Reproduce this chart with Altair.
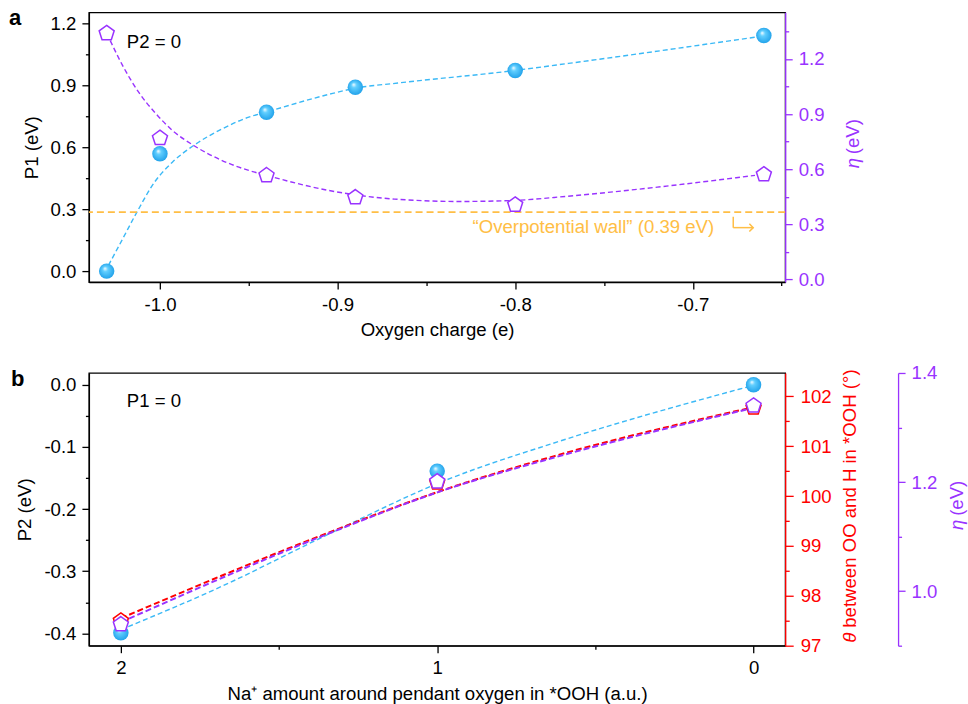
import altair as alt
import pandas as pd

# ---------------- data: panel a ----------------
a_charge = [-1.03, -1.00, -0.94, -0.89, -0.80, -0.66]
a_p1 = [0.000, 0.568, 0.769, 0.890, 0.971, 1.140]
a_eta = [1.340, 0.769, 0.566, 0.446, 0.406, 0.571]

# fitted guide curves
a_fit_p1_x = [-1.029, -1.021, -1.013, -1.003, -0.993, -0.981, -0.965, -0.950, -0.940,
              -0.905, -0.890, -0.866, -0.800, -0.770, -0.660]
a_fit_p1_y = [0.028, 0.156, 0.285, 0.431, 0.527, 0.608, 0.688, 0.745, 0.770,
              0.855, 0.885, 0.910, 0.971, 1.005, 1.138]
a_fit_eta_x = [-1.028, -1.021, -1.012, -1.003, -0.993, -0.981, -0.965, -0.950, -0.940,
               -0.905, -0.890, -0.868, -0.831, -0.800, -0.771, -0.720, -0.665]
a_fit_eta_y = [1.300, 1.164, 1.019, 0.910, 0.811, 0.729, 0.647, 0.593, 0.566,
               0.484, 0.460, 0.437, 0.424, 0.430, 0.452, 0.502, 0.566]
wall_eta = [0.366]

a_x_ticks = [-1.00, -0.95, -0.90, -0.85, -0.80, -0.75, -0.70, -0.65]
a_y1_ticks = [0.0, 0.15, 0.3, 0.45, 0.6, 0.75, 0.9, 1.05, 1.2]
a_y2_ticks = [0.0, 0.15, 0.3, 0.45, 0.6, 0.75, 0.9, 1.05, 1.2, 1.35]

# ---------------- data: panel b ----------------
b_na = [2, 1, 0]
b_p2 = [-0.399, -0.139, 0.000]
b_theta = [97.50, 100.27, 101.77]
b_eta = [0.939, 1.201, 1.340]

b_fit_p2_x = [2.0, 1.68, 1.35, 0.97, 0.62, 0.0]
b_fit_p2_y = [-0.394, -0.324, -0.242, -0.153, -0.092, -0.001]
b_fit_x = [2.0, 1.35, 0.99, 0.63, 0.0]
b_fit_theta = [97.55, 99.25, 100.10, 100.80, 101.78]
b_fit_eta = [0.943, 1.104, 1.183, 1.245, 1.336]

b_x_ticks = [0, 0.5, 1, 1.5, 2]
b_y1_ticks = [0.0, -0.05, -0.1, -0.15, -0.2, -0.25, -0.3, -0.35, -0.4]
b_y2_ticks = [97, 97.5, 98, 98.5, 99, 99.5, 100, 100.5, 101, 101.5, 102]
b_y3_ticks = [0.9, 1.0, 1.1, 1.2, 1.3, 1.4]

# ---------------- texts ----------------
panel_labels = ["a", "b"]
note_a = ["P2 = 0"]
note_b = ["P1 = 0"]
wall_text = ["\u201cOverpotential wall\u201d (0.39 eV)"]

FONT = "Liberation Sans"
FS = 18.6
BLUE = "#3BB9F6"
PURPLE = "#9933FF"
RED = "#FF0000"
ORANGE = "#FFBE45"
MINUS = "\u2212"
PENTA = "M0,-1L0.951,-0.309L0.588,0.809L-0.588,0.809L-0.951,-0.309Z"

ball = alt.Gradient(
    gradient="radial",
    stops=[alt.GradientStop(color="#FFFFFF", offset=0.0),
           alt.GradientStop(color="#62CFFF", offset=0.3),
           alt.GradientStop(color="#1C9EE8", offset=1.0)],
    x1=0.38, y1=0.32, r1=0.0, x2=0.5, y2=0.5, r2=0.55,
)


def mk_axis(values, step, fmt, orient, title=None, color="black", offset=0,
            major=7, minor=3.5, pad=6, tpad=9):
    test = f"abs(datum.value / {step} - round(datum.value / {step})) > 0.001"
    kw = dict(
        values=values, orient=orient,
        tickSize={"condition": {"test": test, "value": minor}, "value": major},
        labelExpr=f"({test}) ? '' : replace(format(datum.value, '{fmt}'), '{MINUS}', '-')",
        domainColor=color, tickColor=color, labelColor=color, titleColor=color,
        labelPadding=pad, labelFlush=False, grid=False, labelOverlap=False,
        domainWidth=1.3, tickWidth=1.3, titlePadding=tpad, title=title,
    )
    if offset:
        kw["offset"] = offset
    return alt.Axis(**kw)


def one_row():
    return pd.DataFrame({"k": [0]})


W = 697

# ================= panel a =================
xa = alt.Scale(domain=[-1.040, -0.648], nice=False, zero=False)
ya1 = alt.Scale(domain=[-0.053, 1.252], nice=False, zero=False)
ya2 = alt.Scale(domain=[-0.015, 1.454], nice=False, zero=False)
xa_axis = mk_axis(a_x_ticks, 0.1, ".1f", "bottom", "Oxygen charge (e)", tpad=7)
Xa = alt.X("charge:Q", scale=xa, axis=xa_axis)

df_a = pd.DataFrame({"charge": a_charge, "p1": a_p1, "eta": a_eta})
df_fit1 = pd.DataFrame({"charge": a_fit_p1_x, "p1": a_fit_p1_y})
df_fit2 = pd.DataFrame({"charge": a_fit_eta_x, "eta": a_fit_eta_y})
df_wall = pd.DataFrame({"eta": wall_eta})

Ya1 = alt.Y("p1:Q", scale=ya1, axis=mk_axis(a_y1_ticks, 0.3, ".1f", "left", "P1 (eV)"))
Ya2 = alt.Y("eta:Q", scale=ya2,
            axis=mk_axis(a_y2_ticks, 0.3, ".1f", "right", None, color=PURPLE))

a_left = alt.layer(
    alt.Chart(df_fit1).mark_line(color=BLUE, strokeWidth=1.4, strokeDash=[5, 3],
                                 interpolate="monotone").encode(x=Xa, y=Ya1),
    alt.Chart(df_a).mark_point(shape="circle", filled=True, fill=ball, size=240,
                               opacity=1, strokeWidth=0).encode(x=Xa, y=Ya1),
)
a_right = alt.layer(
    alt.Chart(df_wall).mark_rule(color=ORANGE, strokeWidth=1.6, strokeDash=[7, 4]).encode(y=Ya2),
    alt.Chart(df_fit2).mark_line(color=PURPLE, strokeWidth=1.4, strokeDash=[5, 3],
                                 interpolate="monotone").encode(x=Xa, y=Ya2),
    alt.Chart(df_a).mark_point(shape=PENTA, filled=True, fill="white", stroke=PURPLE,
                               strokeWidth=1.5, size=250, opacity=1).encode(x=Xa, y=Ya2),
)

a_notes = alt.layer(
    alt.Chart(pd.DataFrame({"t": panel_labels[:1]})).mark_text(
        font=FONT, fontSize=22, fontWeight="bold", align="left", baseline="alphabetic",
        color="black").encode(text="t:N", x=alt.value(-80), y=alt.value(13)),
    alt.Chart(pd.DataFrame({"t": note_a})).mark_text(
        font=FONT, fontSize=FS, align="left", baseline="middle", color="black"
    ).encode(text="t:N", x=alt.value(38), y=alt.value(30)),
    alt.Chart(pd.DataFrame({"t": wall_text})).mark_text(
        font=FONT, fontSize=FS, align="left", baseline="middle", color=ORANGE
    ).encode(text="t:N", x=alt.value(384), y=alt.value(215)),
    alt.Chart(one_row()).mark_rule(color=ORANGE, strokeWidth=1.5).encode(
        x=alt.value(645), y=alt.value(204.5), y2=alt.value(215.5)),
    alt.Chart(one_row()).mark_rule(color=ORANGE, strokeWidth=1.5).encode(
        x=alt.value(645), x2=alt.value(665), y=alt.value(215.5)),
    alt.Chart(one_row()).mark_point(shape="M-1,-1L0,0L-1,1", filled=False, stroke=ORANGE,
                                    strokeWidth=1.5, size=60, opacity=1).encode(
        x=alt.value(665), y=alt.value(215.5)),
    alt.Chart(one_row()).mark_text(font=FONT, fontSize=FS, fontStyle="italic", angle=270,
                                   align="center", baseline="middle", color=PURPLE,
                                   text="\u03b7").encode(x=alt.value(765), y=alt.value(151)),
    alt.Chart(one_row()).mark_text(font=FONT, fontSize=FS, angle=270,
                                   align="left", baseline="middle", color=PURPLE,
                                   text="(eV)").encode(x=alt.value(765), y=alt.value(142)),
)

panel_a = alt.layer(a_left, a_right, a_notes).resolve_scale(y="independent").properties(
    width=W, height=270)

# ================= panel b =================
xb = alt.Scale(domain=[-0.1, 2.101], nice=False, zero=False, reverse=True)
Xb = alt.X("na:Q", scale=xb,
           axis=mk_axis(b_x_ticks, 1, "d", "bottom",
                        "Na\u207a amount around pendant oxygen in *OOH (a.u.)", tpad=7))
yb1 = alt.Scale(domain=[-0.4197, 0.0188], nice=False, zero=False)
yb2 = alt.Scale(domain=[97.0, 102.466], nice=False, zero=False)
yb3 = alt.Scale(domain=[0.9, 1.4], nice=False, zero=False)
Yb1 = alt.Y("p2:Q", scale=yb1, axis=mk_axis(b_y1_ticks, 0.1, ".1f", "left", "P2 (eV)"))
Yb2 = alt.Y("theta:Q", scale=yb2,
            axis=mk_axis(b_y2_ticks, 1, "d", "right", None, color=RED, major=8, minor=4, pad=7))
Yb3 = alt.Y("eta:Q", scale=yb3,
            axis=mk_axis(b_y3_ticks, 0.2, ".1f", "right", None, color=PURPLE, offset=113))

df_b = pd.DataFrame({"na": b_na, "p2": b_p2, "theta": b_theta, "eta": b_eta})
df_bf1 = pd.DataFrame({"na": b_fit_p2_x, "p2": b_fit_p2_y})
df_bf = pd.DataFrame({"na": b_fit_x, "theta": b_fit_theta, "eta": b_fit_eta})

b1 = alt.layer(
    alt.Chart(df_bf1).mark_line(color=BLUE, strokeWidth=1.4, strokeDash=[5, 3],
                                interpolate="monotone").encode(x=Xb, y=Yb1),
    alt.Chart(df_b).mark_point(shape="circle", filled=True, fill=ball, size=240,
                               opacity=1, strokeWidth=0).encode(x=Xb, y=Yb1),
)
b2 = alt.layer(
    alt.Chart(df_bf).mark_line(color=RED, strokeWidth=2, strokeDash=[6, 3],
                               interpolate="monotone").encode(x=Xb, y=Yb2),
    alt.Chart(df_b).mark_point(shape=PENTA, filled=True, fill="white", stroke=RED,
                               strokeWidth=1.5, size=250, opacity=1).encode(x=Xb, y=Yb2),
)
b3 = alt.layer(
    alt.Chart(df_bf).mark_line(color=PURPLE, strokeWidth=2, strokeDash=[6, 3],
                               interpolate="monotone").encode(x=Xb, y=Yb3),
    alt.Chart(df_b).mark_point(shape=PENTA, filled=True, fill="white", stroke=PURPLE,
                               strokeWidth=1.5, size=250, opacity=1).encode(x=Xb, y=Yb3),
)
b_notes = alt.layer(
    alt.Chart(pd.DataFrame({"t": panel_labels[1:]})).mark_text(
        font=FONT, fontSize=22, fontWeight="bold", align="left", baseline="alphabetic",
        color="black").encode(text="t:N", x=alt.value(-78), y=alt.value(13)),
    alt.Chart(pd.DataFrame({"t": note_b})).mark_text(
        font=FONT, fontSize=FS, align="left", baseline="middle", color="black"
    ).encode(text="t:N", x=alt.value(38), y=alt.value(28)),
    alt.Chart(one_row()).mark_text(font=FONT, fontSize=FS, fontStyle="italic", angle=270,
                                   align="center", baseline="middle", color=RED,
                                   text="\u03b8").encode(x=alt.value(762), y=alt.value(265)),
    alt.Chart(one_row()).mark_text(font=FONT, fontSize=FS, angle=270,
                                   align="left", baseline="middle", color=RED,
                                   text="between OO and H in *OOH (\u00b0)").encode(
        x=alt.value(762), y=alt.value(255)),
    alt.Chart(one_row()).mark_text(font=FONT, fontSize=FS, fontStyle="italic", angle=270,
                                   align="center", baseline="middle", color=PURPLE,
                                   text="\u03b7").encode(x=alt.value(869), y=alt.value(152)),
    alt.Chart(one_row()).mark_text(font=FONT, fontSize=FS, angle=270,
                                   align="left", baseline="middle", color=PURPLE,
                                   text="(eV)").encode(x=alt.value(869), y=alt.value(143)),
)

panel_b = alt.layer(b1, b2, b3, b_notes).resolve_scale(y="independent").properties(
    width=W, height=273)

chart = alt.vconcat(panel_a, panel_b, spacing=23).properties(
    padding={"left": 8, "top": 6, "right": 0, "bottom": 0}
).configure(font=FONT).configure_view(
    stroke="black", strokeWidth=1.3
).configure_axis(
    labelFont=FONT, titleFont=FONT, labelFontSize=FS, titleFontSize=FS,
    titleFontWeight="normal"
).configure_text(font=FONT)

chart.save("out.html", embed_options={"renderer": "svg", "actions": False})
